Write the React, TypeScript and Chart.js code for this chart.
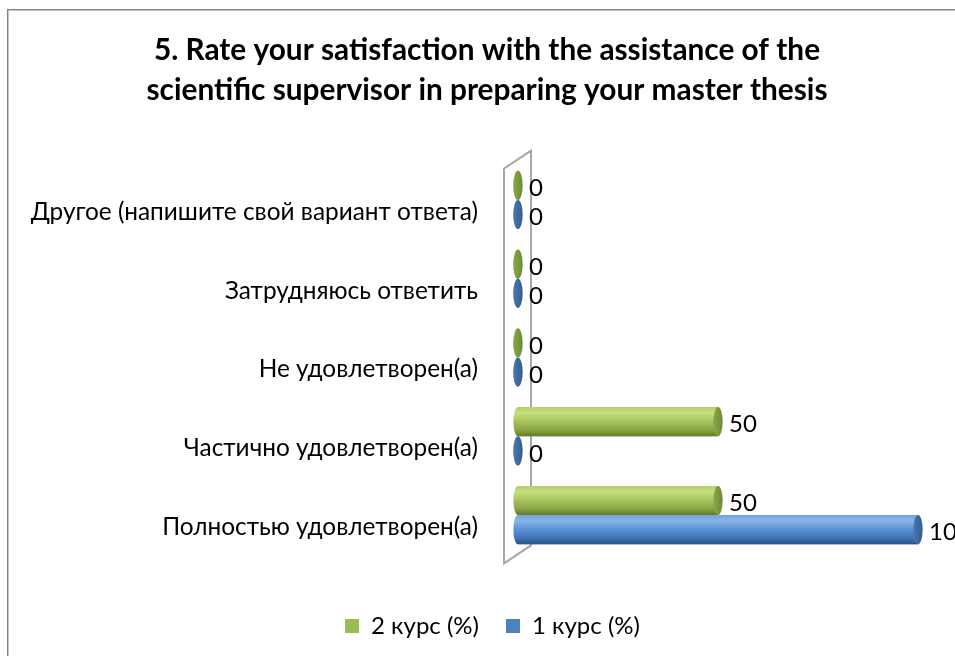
import React, { useEffect, useRef } from "react";
import { Chart, registerables } from "chart.js";

Chart.register(...registerables);

const categories = [
  "Другое (напишите свой вариант ответа)",
  "Затрудняюсь ответить",
  "Не удовлетворен(а)",
  "Частично удовлетворен(а)",
  "Полностью удовлетворен(а)",
];
const course2Values = [0, 0, 0, 50, 50];
const course1Values = [0, 0, 0, 0, 100];
const seriesLabels = ["2 курс (%)", "1 курс (%)"];
const titleLines = [
  "5. Rate your satisfaction with the assistance of the",
  "scientific supervisor in preparing your master thesis",
];
const axisMin = 0;
const axisMax = 100;

const FONT = "Lato, 'Open Sans', sans-serif";

const palettes = [
  {
    solid: "#9bbb59",
    stops: ["#b3cf6c", "#c8e07f", "#a6c25e", "#86a443", "#5f7a2c"],
    cap: ["#8aa84a", "#6d8a33"],
  },
  {
    solid: "#4f81bd",
    stops: ["#74a2dd", "#8ab5ea", "#5b92d6", "#3f72b4", "#2a5286"],
    cap: ["#4b78b0", "#325c8f"],
  },
];

const cylinderPlugin = {
  id: "cylinder3d",
  afterLayout(chart: any) {
    if (chart.legend) {
      chart.legend.left += 29.5;
      chart.legend.right += 29.5;
    }
    if (chart.titleBlock) {
      chart.titleBlock.left += 24;
      chart.titleBlock.right += 24;
    }
  },
  beforeDatasetsDraw(chart: any) {
    const ctx = chart.ctx;
    const area = chart.chartArea;
    const z = chart.scales.x.getPixelForValue(0);
    ctx.save();
    ctx.beginPath();
    ctx.moveTo(z - 14, area.top + 8);
    ctx.lineTo(z + 13, area.top - 10);
    ctx.lineTo(z + 13, area.bottom - 9);
    ctx.lineTo(z - 14, area.bottom + 9);
    ctx.closePath();
    ctx.fillStyle = "#ffffff";
    ctx.fill();
    ctx.lineWidth = 2;
    ctx.strokeStyle = "#a6a6a6";
    ctx.stroke();
    ctx.restore();
  },
  afterDatasetsDraw(chart: any) {
    const ctx = chart.ctx;
    chart.data.datasets.forEach((ds: any, di: number) => {
      const meta = chart.getDatasetMeta(di);
      const pal = palettes[di];
      meta.data.forEach((el: any, i: number) => {
        const { x, y, base, height } = el.getProps(["x", "y", "base", "height"], true);
        const h = height;
        const top = y - h / 2;
        const bot = y + h / 2;
        const rx = h * 0.16;
        ctx.save();
        const g = ctx.createLinearGradient(0, top, 0, bot);
        g.addColorStop(0, pal.stops[0]);
        g.addColorStop(0.2, pal.stops[1]);
        g.addColorStop(0.5, pal.stops[2]);
        g.addColorStop(0.8, pal.stops[3]);
        g.addColorStop(1, pal.stops[4]);
        ctx.beginPath();
        ctx.moveTo(x, top);
        ctx.lineTo(base, top);
        ctx.ellipse(base, y, rx, h / 2, 0, -Math.PI / 2, Math.PI / 2, true);
        ctx.lineTo(x, bot);
        ctx.closePath();
        ctx.fillStyle = g;
        ctx.fill();
        const cg = ctx.createLinearGradient(x - rx, 0, x + rx, 0);
        cg.addColorStop(0, pal.cap[0]);
        cg.addColorStop(1, pal.cap[1]);
        ctx.beginPath();
        ctx.ellipse(x, y, rx, h / 2, 0, 0, Math.PI * 2);
        ctx.fillStyle = cg;
        ctx.fill();
        ctx.fillStyle = "#000000";
        ctx.font = `24px ${FONT}`;
        ctx.textAlign = "left";
        ctx.textBaseline = "middle";
        ctx.fillText(String(ds.data[i]), x + 11, y + 3);
        ctx.restore();
      });
    });
  },
};

export default function App() {
  const ref = useRef<HTMLCanvasElement | null>(null);

  useEffect(() => {
    if (!ref.current) return;
    const chart = new Chart(ref.current, {
      type: "bar",
      data: {
        labels: categories,
        datasets: [
          {
            label: seriesLabels[0],
            data: course2Values,
            backgroundColor: palettes[0].solid,
            borderWidth: 0,
          },
          {
            label: seriesLabels[1],
            data: course1Values,
            backgroundColor: palettes[1].solid,
            borderWidth: 0,
          },
        ],
      },
      options: {
        indexAxis: "y",
        animation: false,
        responsive: false,
        events: [],
        layout: { padding: { left: 0, right: 50, top: 0, bottom: 22 } },
        datasets: {
          bar: { categoryPercentage: 0.74, barPercentage: 1 },
        },
        scales: {
          x: {
            min: axisMin,
            max: axisMax,
            display: true,
            grid: { display: false, drawTicks: false },
            border: { display: false },
            ticks: { display: false },
            afterFit: (s: any) => {
              s.height = 32.6;
            },
          },
          y: {
            grid: { display: false, drawTicks: false },
            border: { display: false },
            ticks: {
              color: "#000000",
              font: { family: FONT, size: 24.4 },
              padding: 40,
              labelOffset: 12,
              autoSkip: false,
            },
            afterFit: (s: any) => {
              s.width = 510;
            },
          },
        },
        plugins: {
          title: {
            display: true,
            text: titleLines,
            color: "#000000",
            font: { family: FONT, size: 29.8, weight: "bold", lineHeight: "40px" },
            padding: { top: 20, bottom: 50.6 },
          },
          legend: {
            position: "bottom",
            labels: {
              color: "#000000",
              font: { family: FONT, size: 24 },
              boxWidth: 14,
              boxHeight: 14,
              padding: 27,
            },
          },
          tooltip: { enabled: false },
        },
      },
      plugins: [cylinderPlugin],
    });
    return () => chart.destroy();
  }, []);

  return (
    <div
      style={{
        position: "fixed",
        left: 0,
        top: 0,
        width: 955,
        height: 656,
        overflow: "hidden",
        background: "#ffffff",
      }}
    >
      <div
        style={{
          position: "absolute",
          left: 7,
          top: 9,
          width: 962,
          height: 662,
          border: "1px solid #828282",
          boxShadow: "inset 1px 1px 0 #c4c4c4",
          boxSizing: "border-box",
        }}
      />
      <canvas
        ref={ref}
        width={960}
        height={660}
        style={{ position: "absolute", left: 8, top: 10, width: 960, height: 660 }}
      />
    </div>
  );
}
